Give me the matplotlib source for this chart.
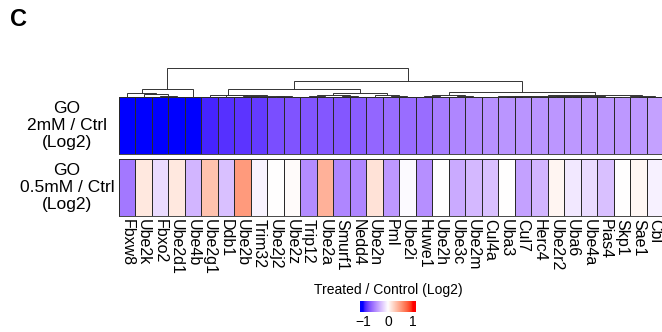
import numpy as np
import matplotlib
matplotlib.use("Agg")
import matplotlib.pyplot as plt
from matplotlib.colors import ListedColormap

plt.rcParams["font.family"] = ["Liberation Sans", "DejaVu Sans"]

# ---------------------------------------------------------------------
# Data
# ---------------------------------------------------------------------
genes = ["Fbxw8", "Ube2k", "Fbxo2", "Ube2d1", "Ube4b", "Ube2g1", "Ddb1", "Ube2b",
         "Trim32", "Ube2j2", "Ube2z", "Trip12", "Ube2a", "Smurf1", "Nedd4", "Ube2n",
         "Pml", "Ube2i", "Huwe1", "Ube2h", "Ube3c", "Ube2m", "Cul4a", "Uba3", "Cul7",
         "Herc4", "Ube2r2", "Uba6", "Ube4a", "Pias4", "Skp1", "Sae1", "Cbl"]

go_2mm = [-1.10, -1.10, -1.05, -1.02, -1.00, -0.92, -0.88, -0.86, -0.84, -0.76,
          -0.74, -0.73, -0.72, -0.72, -0.70, -0.66, -0.63, -0.63, -0.63, -0.56,
          -0.52, -0.50, -0.47, -0.46, -0.46, -0.46, -0.45, -0.44, -0.44, -0.44,
          -0.44, -0.44, -0.40]

go_05mm = [-0.58, 0.12, -0.15, 0.12, -0.32, 0.32, -0.27, 0.52, -0.05, 0.0,
           0.02, -0.50, 0.40, -0.52, -0.52, 0.15, -0.44, -0.02, -0.48, 0.0,
           -0.36, -0.30, -0.27, 0.0, -0.40, -0.32, 0.05, -0.10, -0.15, -0.27,
           0.0, 0.04, -0.06]

row_labels = ["GO\n2mM / Ctrl\n(Log2)", "GO\n0.5mM / Ctrl\n(Log2)"]

# column dendrogram: (cluster a, cluster b, height); ids 0..32 are leaves,
# ids from 33 on are the merged clusters in listed order
merges = [
    (2, 3, 1.0), (1, 33, 2.5), (0, 34, 4.0), (35, 4, 8.0),
    (7, 8, 0.5), (9, 10, 0.6), (37, 38, 1.0), (6, 39, 1.5), (5, 40, 2.0),
    (11, 12, 1.0), (13, 14, 0.8), (42, 43, 2.0), (16, 17, 0.7), (15, 45, 1.5),
    (44, 46, 4.0), (41, 47, 8.0),
    (18, 19, 0.8), (20, 21, 0.6), (49, 50, 1.5),
    (22, 23, 0.4), (24, 25, 0.4), (52, 53, 0.8), (26, 27, 0.5), (28, 29, 0.5),
    (55, 56, 0.9), (54, 57, 1.2), (30, 31, 0.4), (59, 32, 1.0), (58, 60, 2.0),
    (51, 61, 5.0), (48, 62, 15.0), (36, 63, 28.0),
]


# ---------------------------------------------------------------------
# Colour ramp blue - white - red interpolated in LAB space
# ---------------------------------------------------------------------
M_RGB2XYZ = np.array([[0.4124, 0.3576, 0.1805],
                      [0.2126, 0.7152, 0.0722],
                      [0.0193, 0.1192, 0.9505]])
WHITE = np.array([0.95047, 1.0, 1.08883])


def rgb_to_lab(rgb):
    c = np.asarray(rgb, float)
    lin = np.where(c <= 0.04045, c / 12.92, ((c + 0.055) / 1.055) ** 2.4)
    xyz = M_RGB2XYZ @ lin / WHITE
    d = 6 / 29
    f = np.where(xyz > d ** 3, np.cbrt(xyz), xyz / (3 * d * d) + 4 / 29)
    return np.array([116 * f[1] - 16, 500 * (f[0] - f[1]), 200 * (f[1] - f[2])])


def lab_to_rgb(lab):
    L, a, b = lab
    fy = (L + 16) / 116
    f = np.array([fy + a / 500, fy, fy - b / 200])
    d = 6 / 29
    xyz = np.where(f > d, f ** 3, 3 * d * d * (f - 4 / 29)) * WHITE
    lin = np.clip(np.linalg.inv(M_RGB2XYZ) @ xyz, 0, 1)
    c = np.where(lin <= 0.0031308, 12.92 * lin, 1.055 * lin ** (1 / 2.4) - 0.055)
    return np.clip(c, 0, 1)


blue, white, red = rgb_to_lab([0, 0, 1]), rgb_to_lab([1, 1, 1]), rgb_to_lab([1, 0, 0])
ramp = []
for t in np.linspace(-1, 1, 256):
    if t < 0:
        lab = white + (blue - white) * (-t)
    else:
        lab = white + (red - white) * t
    ramp.append(lab_to_rgb(lab))
cmap = ListedColormap(ramp)

# ---------------------------------------------------------------------
# Figure
# ---------------------------------------------------------------------
W, H = 662, 332
fig = plt.figure(figsize=(W / 100, H / 100), dpi=100)


def px_axes(x0, y0, x1, y1):
    return fig.add_axes([x0 / W, 1 - y1 / H, (x1 - x0) / W, (y1 - y0) / H])


n = len(genes)
edge = "#2a2a2a"
rows = [go_2mm, go_05mm]
row_box = [(97, 154), (159, 216)]
for vals, (y0, y1), label in zip(rows, row_box, row_labels):
    ax = px_axes(119, y0, 663, y1)
    ax.pcolormesh(np.array([vals]), cmap=cmap, vmin=-1, vmax=1,
                  edgecolors=edge, linewidth=0.6)
    ax.set_xlim(0, n)
    ax.set_ylim(0, 1)
    ax.set_xticks([])
    ax.set_yticks([])
    for s in ax.spines.values():
        s.set_color(edge)
        s.set_linewidth(0.6)
    ax.text(-52 / 16.48, 0.5, label, ha="center", va="center", fontsize=12.5,
            linespacing=1.2, transform=ax.transData)
    bottom_ax = ax

# column labels
for i, g in enumerate(genes):
    bottom_ax.text(i + 0.5, -0.06, g, rotation=-90, ha="center", va="top",
                   fontsize=11.5, transform=bottom_ax.transData)

# --- Dendrogram ---
dax = px_axes(119, 68, 663, 97)
dax.set_xlim(0, n)
dax.set_ylim(0, 28)
dax.axis("off")
pos = {i: (i + 0.5, 0.0) for i in range(n)}
for k, (a, b, h) in enumerate(merges):
    xa, ha = pos[a]
    xb, hb = pos[b]
    dax.plot([xa, xa, xb, xb], [ha, h, h, hb], color="#333333", lw=0.7,
             clip_on=False, solid_joinstyle="miter")
    pos[n + k] = ((xa + xb) / 2, h)

# --- Legend colour bar ---
cax = px_axes(360, 301, 416, 312)
grad = np.linspace(-1.12, 1.12, 200)
cax.imshow(grad[np.newaxis, :], cmap=cmap, vmin=-1, vmax=1, aspect="auto",
           extent=(-1.12, 1.12, 0, 1))
cax.set_xlim(-1.12, 1.12)
cax.set_yticks([])
cax.set_xticks([-1, 0, 1])
cax.set_xticklabels(["\u22121", "0", "1"], fontsize=10)
cax.tick_params(axis="x", length=0, pad=2)
for s in cax.spines.values():
    s.set_visible(False)
cax.set_title("Treated / Control (Log2)", fontsize=10, pad=5)

fig.text(10 / W, 1 - 20 / H, "C", fontsize=17, weight="bold", va="center", ha="left")

fig.savefig("out.png", dpi=100)
